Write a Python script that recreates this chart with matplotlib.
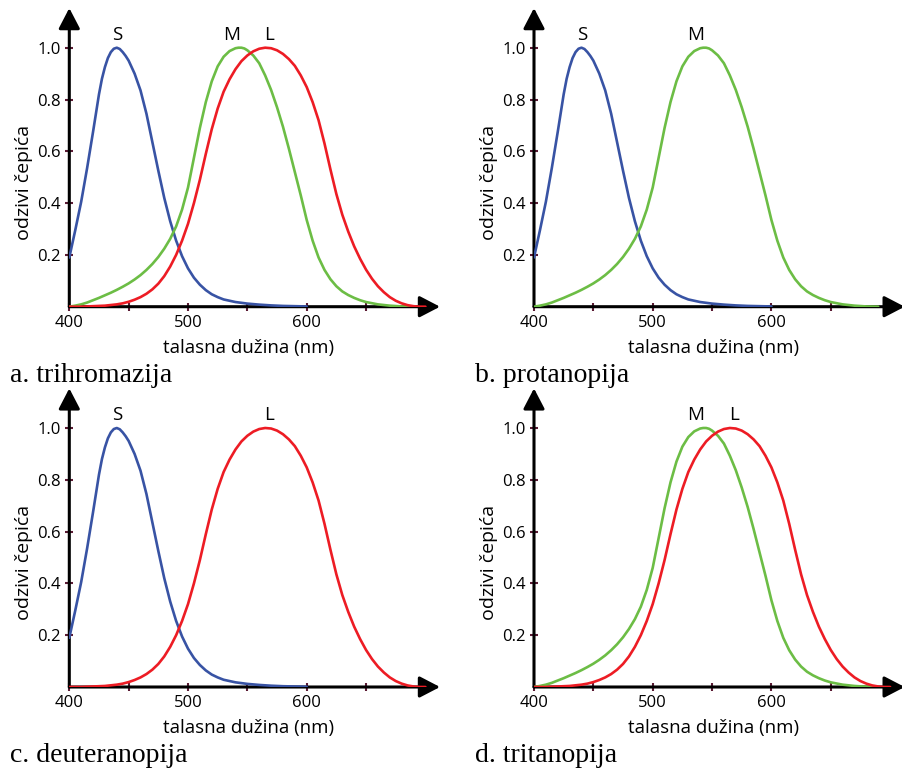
import numpy as np
import matplotlib
matplotlib.use("Agg")
import matplotlib.pyplot as plt

# ---------------- data ----------------
s_nm = [400, 405, 410, 415, 420, 425, 427.5, 430, 432.5, 435, 437.5, 440, 442.5, 445,
        447.5, 450, 455, 460, 465, 470, 475, 480, 485, 490, 495, 500, 505, 510, 515,
        520, 525, 530, 540, 550, 560, 570, 580, 590, 600]
s_val = [0.19, 0.295, 0.405, 0.535, 0.675, 0.82, 0.88, 0.925, 0.96, 0.983, 0.996, 1.0,
         0.995, 0.983, 0.968, 0.95, 0.90, 0.835, 0.745, 0.635, 0.525, 0.42, 0.33, 0.255,
         0.195, 0.148, 0.112, 0.085, 0.064, 0.048, 0.037, 0.028, 0.018, 0.012, 0.008,
         0.005, 0.003, 0.002, 0.001]

m_nm = [400, 405, 410, 415, 420, 425, 430, 435, 440, 445, 450, 455, 460, 465, 470, 475,
        480, 485, 490, 495, 500, 505, 510, 515, 520, 525, 530, 535, 540, 542.5, 545,
        547.5, 550, 555, 560, 565, 570, 575, 580, 585, 590, 595, 600, 605, 610, 615,
        620, 625, 630, 635, 640, 645, 650, 660, 670, 680, 690]
m_val = [0.0, 0.004, 0.009, 0.016, 0.025, 0.034, 0.044, 0.054, 0.065, 0.077, 0.09, 0.105,
         0.122, 0.142, 0.165, 0.192, 0.224, 0.262, 0.31, 0.375, 0.46, 0.575, 0.69, 0.79,
         0.87, 0.928, 0.965, 0.987, 0.998, 1.0, 1.0, 0.997, 0.99, 0.97, 0.94, 0.893,
         0.837, 0.77, 0.695, 0.61, 0.52, 0.43, 0.335, 0.255, 0.19, 0.142, 0.106, 0.079,
         0.059, 0.045, 0.034, 0.025, 0.018, 0.009, 0.004, 0.001, 0.0]

l_nm = [400, 410, 420, 430, 440, 445, 450, 455, 460, 465, 470, 475, 480, 485, 490, 495,
        500, 505, 510, 515, 520, 525, 530, 535, 540, 545, 550, 555, 560, 565, 570, 575,
        580, 585, 590, 595, 600, 605, 610, 615, 620, 625, 630, 635, 640, 645, 650, 655,
        660, 665, 670, 675, 680, 685, 690, 695, 700]
l_val = [0.0, 0.0, 0.002, 0.004, 0.009, 0.013, 0.019, 0.027, 0.037, 0.05, 0.067, 0.089,
         0.118, 0.155, 0.2, 0.255, 0.32, 0.40, 0.49, 0.59, 0.685, 0.765, 0.83, 0.878,
         0.917, 0.948, 0.97, 0.986, 0.996, 1.0, 0.998, 0.99, 0.976, 0.956, 0.93, 0.893,
         0.848, 0.79, 0.72, 0.63, 0.53, 0.435, 0.355, 0.29, 0.233, 0.185, 0.143, 0.108,
         0.079, 0.056, 0.037, 0.023, 0.013, 0.006, 0.002, 0.0, 0.0]

x_ticks = [400, 450, 500, 550, 600, 650]
x_ticklabels = ["400", "", "500", "", "600", ""]
y_ticks = [0.2, 0.4, 0.6, 0.8, 1.0]
y_ticklabels = ["0.2", "0.4", "0.6", "0.8", "1.0"]

panel_captions = ["a. trihromazija", "b. protanopija", "c. deuteranopija", "d. tritanopija"]
panel_curves = [["S", "M", "L"], ["S", "M"], ["S", "L"], ["M", "L"]]
label_x = {"S": 440.3, "M": 536.4, "L": 568.5}

xlabel = "talasna dužina (nm)"
ylabel = "odzivi čepića"

colors = {"S": "#3853a4", "M": "#6cbd45", "L": "#ed1c24"}
curves = {"S": (s_nm, s_val), "M": (m_nm, m_val), "L": (l_nm, l_val)}

# ---------------- layout ----------------
W, H = 902, 774
fig = plt.figure(figsize=(W / 100, H / 100), dpi=100)
sans = ["Open Sans", "DejaVu Sans"]
serif = ["Liberation Serif", "DejaVu Serif"]

px_per_nm = 1.187
px_per_unit = 259.0
xmax = 712.3
ymax = 1.153
ax_w = (xmax - 400) * px_per_nm
ax_h = ymax * px_per_unit

origins = [(69.3, 306.7), (534.0, 306.7), (69.3, 687.0), (534.0, 687.0)]
caption_pos = [(10, 376), (475, 376), (10, 756), (475, 756)]
tick_col = "#5a1a33"

for i, (ox, oy) in enumerate(origins):
    ax = fig.add_axes([ox / W, (H - oy) / H, ax_w / W, ax_h / H])
    ax.set_xlim(400, xmax)
    ax.set_ylim(0, ymax)
    for sp in ax.spines.values():
        sp.set_visible(False)
    ax.patch.set_alpha(0)

    for key in panel_curves[i]:
        xs, ys = curves[key]
        ax.plot(xs, ys, color=colors[key], lw=1.9, zorder=3,
                solid_capstyle="round", solid_joinstyle="round")
        ax.text(label_x[key], 1.05, key, ha="center", va="center",
                fontsize=13.5, family=sans, color="black")

    # axes with arrows
    for end in [(1, 0), (0, 1)]:
        ax.annotate("", xy=end, xytext=(0, 0), xycoords="axes fraction",
                    arrowprops=dict(arrowstyle="-|>,head_length=1.25,head_width=0.65",
                                    lw=2.2, color="black", shrinkA=0, shrinkB=0),
                    zorder=2, annotation_clip=False)

    ax.set_xticks(x_ticks)
    ax.set_xticklabels(x_ticklabels)
    ax.set_yticks(y_ticks)
    ax.set_yticklabels(y_ticklabels)
    ax.tick_params(direction="inout", length=6, width=1.5, color=tick_col,
                   labelcolor="black", labelsize=12, pad=3)
    for lab in ax.get_xticklabels() + ax.get_yticklabels():
        lab.set_family(sans)

    ax.text(551.4, -0.158, xlabel, ha="center", va="center", fontsize=13.5, family=sans)
    ax.text(362, 0.48, ylabel, ha="center", va="center", rotation=90,
            fontsize=14, family=sans)

    cx, cy = caption_pos[i]
    fig.text(cx / W, 1 - cy / H, panel_captions[i], ha="left", va="center",
             fontsize=20, family=serif)

fig.savefig("out.png", dpi=100)
